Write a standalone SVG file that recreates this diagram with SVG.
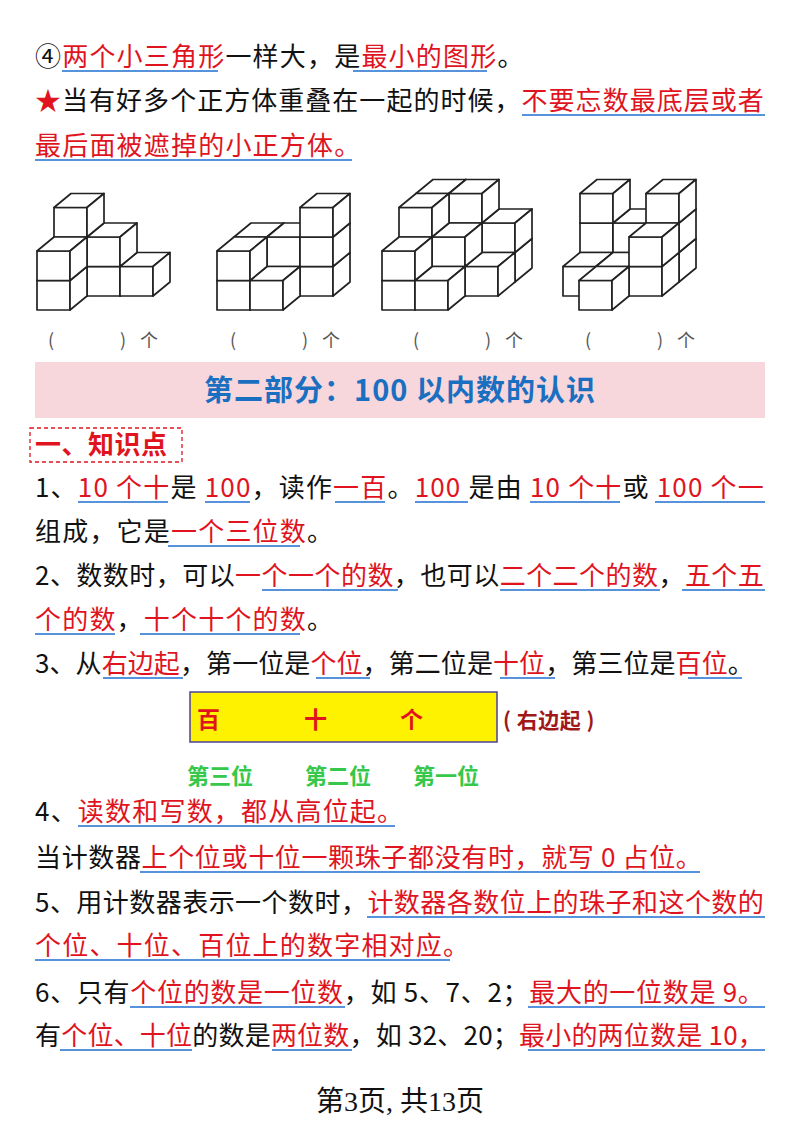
<svg xmlns="http://www.w3.org/2000/svg" xmlns:xlink="http://www.w3.org/1999/xlink" width="800" height="1132" viewBox="0 0 800 1132">
<style>
text{font-family:"Noto Sans CJK SC","Noto Sans",sans-serif;font-size:26px;letter-spacing:1.2px;fill:#111}
.r{fill:#e0141e}
.u{stroke:#1e6fd0;stroke-width:1.6}
.cb{fill:#fff;stroke:#222;stroke-width:1.7;stroke-linejoin:round}
.lab{font-size:18px;fill:#555;letter-spacing:0}
</style>
<defs>
<g id="cube">
<rect class="cb" x="0" y="0" width="33" height="29.5"/>
<polygon class="cb" points="0,0 17,-14 50,-14 33,0"/>
<polygon class="cb" points="33,0 50,-14 50,15.5 33,29.5"/>
</g>
</defs>
<rect width="800" height="1132" fill="#fff"/>

<g id="text-top">
<text x="35" y="66">④<tspan class="r">两个小三角形</tspan>一样大，是<tspan class="r">最小的图形</tspan>。</text>
<text x="35" y="110" textLength="730" lengthAdjust="spacing"><tspan class="r">★</tspan>当有好多个正方体重叠在一起的时候，<tspan class="r">不要忘数最底层或者</tspan></text>
<text x="35" y="155" class="r">最后面被遮掉的小正方体。</text>
<line class="u" x1="62" y1="71" x2="218" y2="71"/><line class="u" x1="353" y1="71" x2="487" y2="71"/>
<line class="u" x1="522" y1="115" x2="765" y2="115"/><line class="u" x1="35" y1="160" x2="352" y2="160"/>
</g>

<g id="cubes">
<g id="fig1">
<use href="#cube" x="54" y="266.5"/><use href="#cube" x="87" y="266.5"/><use href="#cube" x="120" y="266.5"/>
<use href="#cube" x="54" y="237"/><use href="#cube" x="87" y="237"/><use href="#cube" x="54" y="207.5"/>
<use href="#cube" x="37" y="280.5"/><use href="#cube" x="37" y="251"/>
</g>
<g id="fig2">
<use href="#cube" x="234" y="266.5"/><use href="#cube" x="267" y="266.5"/><use href="#cube" x="300" y="266.5"/>
<use href="#cube" x="234" y="237"/><use href="#cube" x="267" y="237"/><use href="#cube" x="300" y="237"/>
<use href="#cube" x="300" y="207.5"/>
<use href="#cube" x="217" y="280.5"/><use href="#cube" x="250" y="280.5"/><use href="#cube" x="217" y="251"/>
</g>
<g id="fig3">
<use href="#cube" x="416" y="252.5"/><use href="#cube" x="449" y="252.5"/><use href="#cube" x="482" y="252.5"/>
<use href="#cube" x="416" y="223"/><use href="#cube" x="449" y="223"/><use href="#cube" x="482" y="223"/>
<use href="#cube" x="416" y="193.5"/><use href="#cube" x="449" y="193.5"/>
<use href="#cube" x="399" y="266.5"/><use href="#cube" x="432" y="266.5"/><use href="#cube" x="465" y="266.5"/>
<use href="#cube" x="399" y="237"/><use href="#cube" x="432" y="237"/><use href="#cube" x="399" y="207.5"/>
<use href="#cube" x="382" y="280.5"/><use href="#cube" x="415" y="280.5"/><use href="#cube" x="382" y="251"/>
</g>
<g id="fig4">
<use href="#cube" x="580" y="252.5"/><use href="#cube" x="613" y="252.5"/><use href="#cube" x="646" y="252.5"/>
<use href="#cube" x="580" y="223"/><use href="#cube" x="613" y="223"/><use href="#cube" x="646" y="223"/>
<use href="#cube" x="580" y="193.5"/><use href="#cube" x="646" y="193.5"/>
<use href="#cube" x="563" y="266.5"/><use href="#cube" x="596" y="266.5"/><use href="#cube" x="629" y="266.5"/>
<use href="#cube" x="629" y="237"/>
<use href="#cube" x="579" y="280.5"/>
</g>
<text class="lab" x="48" y="347">(</text><text class="lab" x="120" y="347">)</text><text class="lab" x="140" y="347">个</text>
<text class="lab" x="230" y="347">(</text><text class="lab" x="302" y="347">)</text><text class="lab" x="322" y="347">个</text>
<text class="lab" x="413" y="347">(</text><text class="lab" x="485" y="347">)</text><text class="lab" x="505" y="347">个</text>
<text class="lab" x="585" y="347">(</text><text class="lab" x="657" y="347">)</text><text class="lab" x="677" y="347">个</text>
</g>

<g id="heading">
<rect x="35" y="362" width="730" height="56" fill="#f7d7dc"/>
<text x="400" y="401" text-anchor="middle" style="font-size:29px;letter-spacing:1px;font-weight:bold;fill:#1a6fc0">第二部分：100 以内数的认识</text>
</g>
<g id="knowledge">
<rect x="30" y="428" width="152" height="34" fill="none" stroke="#e0141e" stroke-width="1.3" stroke-dasharray="4,3"/>
<text x="35" y="454" style="font-weight:bold;fill:#e0141e;letter-spacing:0.5px">一、知识点</text>
</g>

<g id="body">
<text x="35" y="497" textLength="730" lengthAdjust="spacing">1、<tspan class="r">10 个十</tspan>是 <tspan class="r">100</tspan>，读作<tspan class="r">一百</tspan>。<tspan class="r">100</tspan> 是由 <tspan class="r">10 个十</tspan>或 <tspan class="r">100 个一</tspan></text>
<text x="35" y="541">组成，它是<tspan class="r">一个三位数</tspan>。</text>
<text x="35" y="585" textLength="730" lengthAdjust="spacing">2、数数时，可以<tspan class="r">一个一个的数</tspan>，也可以<tspan class="r">二个二个的数</tspan>，<tspan class="r">五个五</tspan></text>
<text x="35" y="629"><tspan class="r">个的数</tspan>，<tspan class="r">十个十个的数</tspan>。</text>
<text x="35" y="673" textLength="720" lengthAdjust="spacing">3、从<tspan class="r">右边起</tspan>，第一位是<tspan class="r">个位</tspan>，第二位是<tspan class="r">十位</tspan>，第三位是<tspan class="r">百位</tspan>。</text>
<text x="35" y="821">4、<tspan class="r">读数和写数，都从高位起。</tspan></text>
<text x="35" y="867" textLength="668" lengthAdjust="spacing">当计数器<tspan class="r">上个位或十位一颗珠子都没有时，就写 0 占位。</tspan></text>
<text x="35" y="912" textLength="730" lengthAdjust="spacing">5、用计数器表示一个数时，<tspan class="r">计数器各数位上的珠子和这个数的</tspan></text>
<text x="35" y="955" class="r">个位、十位、百位上的数字相对应。</text>
<text x="35" y="1002" textLength="730" lengthAdjust="spacing">6、只有<tspan class="r">个位的数是一位数</tspan>，如 5、7、2；<tspan class="r">最大的一位数是 9。</tspan></text>
<text x="35" y="1045" textLength="730" lengthAdjust="spacing">有<tspan class="r">个位、十位</tspan>的数是<tspan class="r">两位数</tspan>，如 32、20；<tspan class="r">最小的两位数是 10，</tspan></text>
<line class="u" x1="78" y1="502" x2="168" y2="502"/><line class="u" x1="205" y1="502" x2="250" y2="502"/><line class="u" x1="335" y1="502" x2="385" y2="502"/><line class="u" x1="415" y1="502" x2="468" y2="502"/><line class="u" x1="530" y1="502" x2="620" y2="502"/><line class="u" x1="655" y1="502" x2="765" y2="502"/>
<line class="u" x1="168" y1="546" x2="300" y2="546"/>
<line class="u" x1="262" y1="590" x2="398" y2="590"/><line class="u" x1="500" y1="590" x2="660" y2="590"/><line class="u" x1="682" y1="590" x2="765" y2="590"/>
<line class="u" x1="35" y1="634" x2="115" y2="634"/><line class="u" x1="140" y1="634" x2="300" y2="634"/>
<line class="u" x1="103" y1="678" x2="183" y2="678"/><line class="u" x1="316" y1="678" x2="370" y2="678"/><line class="u" x1="500" y1="678" x2="555" y2="678"/><line class="u" x1="688" y1="678" x2="742" y2="678"/>
<line class="u" x1="78" y1="826" x2="395" y2="826"/>
<line class="u" x1="140" y1="872" x2="700" y2="872"/>
<line class="u" x1="367" y1="917" x2="765" y2="917"/>
<line class="u" x1="35" y1="960" x2="450" y2="960"/>
<line class="u" x1="130" y1="1007" x2="345" y2="1007"/><line class="u" x1="528" y1="1007" x2="765" y2="1007"/>
<line class="u" x1="60" y1="1050" x2="192" y2="1050"/><line class="u" x1="272" y1="1050" x2="352" y2="1050"/><line class="u" x1="528" y1="1050" x2="765" y2="1050"/>
</g>

<g id="place-box">
<rect x="190" y="692" width="307" height="50" fill="#fff200" stroke="#4a3fa0" stroke-width="1.5"/>
<text x="197" y="728" style="font-size:23px;letter-spacing:0;font-weight:bold;fill:#e0141e">百</text>
<text x="304" y="728" style="font-size:23px;letter-spacing:0;font-weight:bold;fill:#e0141e">十</text>
<text x="400" y="728" style="font-size:23px;letter-spacing:0;font-weight:bold;fill:#e0141e">个</text>
<text x="503" y="728" style="font-size:21px;letter-spacing:0.5px;font-weight:bold;fill:#a01818">( 右边起 )</text>
<text x="187" y="784" style="font-size:22px;letter-spacing:0;font-weight:bold;fill:#35c84a">第三位</text>
<text x="305" y="784" style="font-size:22px;letter-spacing:0;font-weight:bold;fill:#35c84a">第二位</text>
<text x="413" y="784" style="font-size:22px;letter-spacing:0;font-weight:bold;fill:#35c84a">第一位</text>
</g>

<text x="400" y="1111" text-anchor="middle" style="font-family:'Liberation Serif','Noto Sans CJK SC',serif;font-size:28px;letter-spacing:0">第3页, 共13页</text>
</svg>
